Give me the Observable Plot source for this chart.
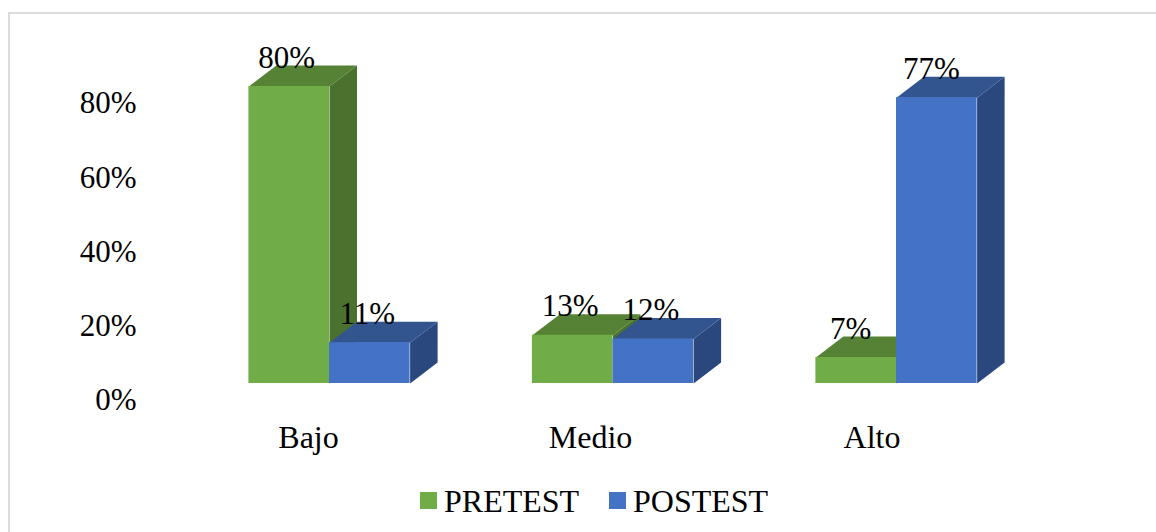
<!DOCTYPE html>
<html><head><meta charset="utf-8">
<script src="https://cdn.jsdelivr.net/npm/d3@7"></script>
<script src="https://cdn.jsdelivr.net/npm/@observablehq/plot@0.6"></script>
<style>
html,body{margin:0;padding:0;background:#fff;overflow:hidden;width:1156px;height:532px}
#wrap{position:relative;width:1156px;height:532px;font-family:"Liberation Serif",serif;color:#000}
#frame{position:absolute;left:8px;top:12px;width:1200px;height:600px;border:2px solid #dcdcdc;box-sizing:border-box;pointer-events:none}
#chart svg{display:block;background:transparent;position:relative}
#legend{height:52px;position:relative;font-size:32px;line-height:52px;white-space:nowrap}
#legend span{position:absolute;top:-5px}
#legend i{position:absolute;top:12px;width:17px;height:17px}
</style></head>
<body><div id="wrap"><div id="frame"></div><div id="chart"></div><div id="legend"></div></div>
<script>
const categories = ["Bajo","Medio","Alto"];
const pretest = [80,13,7];
const postest = [11,12,77];
const yTicks = [0,20,40,60,80];
const seriesNames = ["PRETEST","POSTEST"];

const seriesStyles = [
  {front:"#70AD47", top:"#568235", side:"#4B712F"},
  {front:"#4472C4", top:"#32558F", side:"#2A487E"}
];
const pxX = 283.5, pxY = 297/80;
const barW = 80.6/pxX, depthX = 27.5/pxX, depthY = 21/pxY;

function barsFor(values, s){
  return values.map((v,i)=>({i, v, x1: s===0 ? i-barW : i, x2: s===0 ? i : i+barW}));
}
function faces(bars, kind){
  return bars.flatMap(b=>{
    const pts = kind==="top"
      ? [[b.x1,b.v],[b.x2,b.v],[b.x2+depthX,b.v+depthY],[b.x1+depthX,b.v+depthY]]
      : [[b.x2,0],[b.x2,b.v],[b.x2+depthX,b.v+depthY],[b.x2+depthX,depthY]];
    return pts.map(([x,y])=>({id:b.i,x,y}));
  });
}
const marks = [];
[pretest,postest].forEach((values,s)=>{
  const bars = barsFor(values,s), c = seriesStyles[s];
  marks.push(Plot.line(faces(bars,"side"),{x:"x",y:"y",z:"id",fill:c.side,stroke:"none",curve:"linear"}));
  marks.push(Plot.line(faces(bars,"top"),{x:"x",y:"y",z:"id",fill:c.top,stroke:"none",curve:"linear"}));
  marks.push(Plot.rect(bars,{x1:"x1",x2:"x2",y1:()=>0,y2:"v",fill:c.front,inset:0}));
});
const labelRows = [pretest,postest].flatMap((values,s)=>barsFor(values,s).map(b=>({...b,xc:(b.x1+b.x2)/2})));
const fmt = d=>d+"%";
marks.push(Plot.text(labelRows.filter(d=>d.i<2),{x:"xc",y:"v",text:d=>fmt(d.v),dx:-2.5,dy:-19,lineAnchor:"bottom",fontSize:31,fill:"#000"}));
marks.push(Plot.text(labelRows.filter(d=>d.i===2),{x:"xc",y:"v",text:d=>fmt(d.v),dx:-5.5,dy:-19,lineAnchor:"bottom",fontSize:31,fill:"#000"}));

const catAxis = (i,dx)=>Plot.axisX([i],{anchor:"bottom",tickSize:0,tickPadding:0,tickFormat:j=>categories[j],fontSize:32,dx,dy:4,label:null,color:"#000"});

const plot = Plot.plot({
  width:1156,height:480,marginLeft:136,marginRight:0,marginTop:0,marginBottom:59,
  style:{fontFamily:'"Liberation Serif",serif',fontSize:"31px",color:"#000",background:"transparent",overflow:"visible"},
  x:{domain:[0,2],range:[329,896]},
  y:{domain:[0,80],range:[383,86]},
  marks:[
    Plot.axisY(yTicks,{anchor:"left",tickSize:0,tickPadding:0,tickFormat:fmt,fontSize:31,dy:17,label:null,color:"#000"}),
    catAxis(0,-21),catAxis(1,-22.5),catAxis(2,-24.5),
    ...marks
  ]
});
document.getElementById("chart").append(plot);

const legendPos = [{sw:420,tx:444},{sw:609,tx:633}];
const legend = document.getElementById("legend");
seriesNames.forEach((n,s)=>{
  const sw=document.createElement("i");
  sw.style.left=legendPos[s].sw+"px"; sw.style.background=seriesStyles[s].front;
  const t=document.createElement("span");
  t.style.left=legendPos[s].tx+"px"; t.textContent=n;
  legend.append(sw,t);
});
</script></body></html>
